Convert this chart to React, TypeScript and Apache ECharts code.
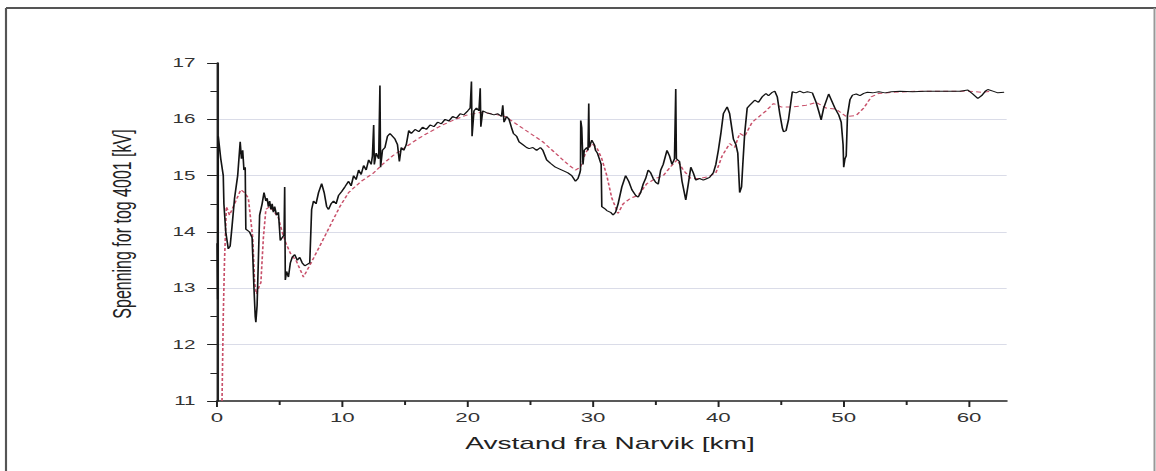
import React, { useEffect, useRef } from "react";
import * as echarts from "echarts";

// Measured line voltage along the line (km, kV)
const measuredKm = [
  0.0, 0.05, 0.08, 0.1, 0.15, 0.3, 0.5, 0.55, 0.7, 0.9, 1.05, 1.2, 1.4, 1.65, 1.85, 1.95, 2.05, 2.15, 2.25, 2.3,
  2.6, 2.8, 2.95, 3.05, 3.1, 3.2, 3.3, 3.4, 3.6, 3.75, 3.9, 4.0, 4.1, 4.2, 4.3, 4.4, 4.5, 4.6, 4.75, 4.9,
  5.05, 5.2, 5.35, 5.4, 5.45, 5.55, 5.7, 5.85, 6.0, 6.2, 6.4, 6.6, 6.8, 7.0, 7.4, 7.55, 7.7, 7.9, 8.1, 8.35,
  8.55, 8.75, 8.9, 9.1, 9.3, 9.5, 9.7, 9.95, 10.2, 10.5, 10.7, 10.9, 11.1, 11.3, 11.5, 11.7, 11.9, 12.1, 12.3, 12.4,
  12.5, 12.55, 12.7, 12.9, 13.0, 13.05, 13.2, 13.4, 13.6, 13.8, 14.0, 14.2, 14.4, 14.55, 14.7, 14.9, 15.1, 15.3, 15.5, 15.8,
  16.1, 16.4, 16.7, 17.0, 17.3, 17.6, 17.9, 18.2, 18.5, 18.8, 19.1, 19.4, 19.7, 20.0, 20.2, 20.3, 20.35, 20.5, 20.7, 20.9,
  21.0, 21.05, 21.2, 21.5, 21.8, 22.1, 22.4, 22.7, 22.8, 22.9, 23.1, 23.3, 23.5, 23.65, 23.9, 24.1, 24.4, 24.7, 24.9, 25.2,
  25.5, 25.8, 26.0, 26.3, 26.6, 27.0, 27.3, 27.7, 28.0, 28.3, 28.6, 28.8, 28.95, 29.0, 29.02, 29.1, 29.2, 29.3, 29.5, 29.6,
  29.66, 29.7, 29.9, 30.1, 30.2, 30.35, 30.5, 30.65, 30.7, 30.9, 31.1, 31.4, 31.6, 31.8, 32.0, 32.3, 32.6, 32.85, 33.1, 33.4,
  33.6, 33.8, 34.0, 34.2, 34.4, 34.6, 34.8, 35.0, 35.2, 35.4, 35.6, 35.9, 36.1, 36.3, 36.5, 36.6, 36.65, 36.9, 37.1, 37.4,
  37.6, 37.8, 38.0, 38.2, 38.5, 38.8, 39.1, 39.3, 39.6, 39.8, 40.0, 40.2, 40.4, 40.7, 40.9, 41.0, 41.2, 41.4, 41.55, 41.7,
  41.85, 41.95, 42.1, 42.3, 42.5, 42.9, 43.2, 43.5, 43.8, 44.0, 44.3, 44.5, 44.7, 44.9, 45.1, 45.2, 45.4, 45.6, 45.9, 46.2,
  46.5, 46.8, 47.1, 47.5, 47.8, 48.0, 48.2, 48.4, 48.8, 49.0, 49.3, 49.6, 49.8, 49.95, 50.0, 50.1, 50.2, 50.3, 50.5, 50.7,
  51.0, 51.3, 51.6, 51.9, 52.3, 52.8, 53.3, 53.8, 54.5, 55.5, 56.5, 57.5, 58.5, 59.3, 59.9, 60.3, 60.7, 61.0, 61.3, 61.5,
  61.9, 62.3, 62.8,
];
const measuredKv = [
  13.8, 12.8, 13.9, 15.7, 15.6, 15.3, 15.0, 14.5, 14.0, 13.7, 13.75, 14.1, 14.6, 15.0, 15.6, 15.3, 15.45, 15.1, 15.15, 14.05,
  14.0, 13.9, 13.0, 12.5, 12.4, 12.7, 13.5, 14.3, 14.5, 14.7, 14.55, 14.6, 14.45, 14.55, 14.4, 14.5, 14.35, 14.45, 14.3, 14.35,
  13.85, 13.9, 13.95, 14.8, 13.15, 13.3, 13.2, 13.45, 13.55, 13.6, 13.5, 13.55, 13.45, 13.4, 13.45, 14.4, 14.55, 14.5, 14.7, 14.86,
  14.7, 14.45, 14.4, 14.5, 14.55, 14.5, 14.65, 14.72, 14.8, 14.9, 14.82, 15.0, 14.93, 15.1, 15.02, 15.18, 15.1, 15.28, 15.2, 15.35,
  15.9, 15.2, 15.4, 15.3, 16.6, 15.15, 15.45, 15.5, 15.7, 15.75, 15.7, 15.65, 15.55, 15.25, 15.5, 15.45, 15.55, 15.8, 15.75, 15.82,
  15.78, 15.86, 15.82, 15.9, 15.87, 15.95, 15.92, 16.0, 15.97, 16.05, 16.02, 16.1, 16.08, 16.15, 16.2, 16.67, 15.7, 16.15, 16.2, 16.15,
  16.55, 15.87, 16.15, 16.12, 16.1, 16.08, 16.1, 16.05, 16.25, 15.95, 16.05, 16.0, 15.85, 15.75, 15.7, 15.6, 15.55, 15.5, 15.48, 15.5,
  15.45, 15.5, 15.45, 15.28, 15.22, 15.15, 15.12, 15.08, 15.05, 15.0, 14.9, 14.95, 15.05, 15.1, 15.98, 15.85, 15.2, 15.45, 15.5, 15.45,
  16.28, 15.5, 15.63, 15.55, 15.45, 15.4, 15.3, 15.2, 14.45, 14.42, 14.38, 14.35, 14.3, 14.35, 14.5, 14.8, 15.0, 14.9, 14.75, 14.65,
  14.62, 14.7, 14.85, 14.95, 15.1, 15.05, 14.95, 14.88, 14.85, 15.1, 15.2, 15.45, 15.35, 15.2, 15.3, 16.54, 15.3, 15.25, 14.9, 14.57,
  14.85, 15.15, 15.05, 14.92, 14.95, 14.92, 14.95, 14.97, 15.05, 15.2, 15.45, 15.75, 16.1, 16.22, 16.1, 15.95, 15.65, 15.55, 15.4, 14.7,
  14.8, 15.2, 15.75, 16.2, 16.25, 16.34, 16.3, 16.4, 16.46, 16.42, 16.48, 16.5, 16.4, 16.1, 15.85, 15.78, 15.8, 16.0, 16.49, 16.47,
  16.5, 16.47, 16.49, 16.47, 16.3, 16.15, 15.99, 16.2, 16.45, 16.35, 16.2, 16.08, 15.95, 15.55, 15.15, 15.3, 15.35, 16.07, 16.35, 16.43,
  16.45, 16.42, 16.46, 16.48, 16.47, 16.49, 16.47, 16.49, 16.5, 16.49, 16.5, 16.5, 16.5, 16.5, 16.52, 16.45, 16.37, 16.42, 16.5, 16.53,
  16.5, 16.47, 16.48,
];

// Simulated voltage (km, kV)
const simulatedKm = [
  0.4, 0.5, 0.6, 0.75, 1.0, 1.3, 1.6, 1.9, 2.2, 2.5, 2.7, 2.85, 3.0, 3.15, 3.3, 3.5, 3.7, 3.9, 4.2, 4.6,
  4.9, 5.2, 5.5, 5.9, 6.3, 6.6, 6.9, 7.5, 8.2, 9.0, 9.8, 10.5, 11.5, 12.5, 13.2, 14.0, 15.0, 16.0, 17.0, 18.0,
  19.0, 20.0, 21.0, 22.0, 23.0, 24.0, 25.0, 26.0, 27.0, 28.0, 28.6, 29.0, 29.4, 29.9, 30.3, 30.7, 31.1, 31.5, 32.0, 32.4,
  33.0, 33.6, 34.3, 35.0, 35.6, 36.2, 36.7, 37.2, 37.8, 38.5, 39.2, 39.8, 40.3, 40.9, 41.3, 41.7, 42.1, 42.7, 43.2, 43.8,
  44.4, 45.0, 45.9, 47.0, 47.8, 48.6, 49.4, 50.2, 51.0, 51.6, 52.2, 52.8, 54.0, 56.0, 58.0, 60.0, 61.0, 61.8,
];
const simulatedKv = [
  11.0, 12.5, 13.5, 14.45, 14.3, 14.45, 14.6, 14.75, 14.7, 14.6, 14.2, 13.9, 13.1, 12.9, 13.0, 13.1, 13.9, 14.4, 14.45, 14.35,
  14.25, 14.0, 13.8, 13.6, 13.5, 13.35, 13.2, 13.45, 13.75, 14.1, 14.45, 14.7, 14.9, 15.05, 15.2, 15.35, 15.5, 15.65, 15.78, 15.9,
  16.0, 16.08, 16.12, 16.1, 16.05, 15.9, 15.75, 15.6, 15.4, 15.2, 15.1, 15.15, 15.4, 15.57, 15.5, 15.3, 15.0, 14.6, 14.33, 14.5,
  14.6, 14.65, 14.86, 14.95, 15.0, 15.16, 15.28, 15.1, 14.95, 14.95, 14.98, 15.05, 15.35, 15.57, 15.5, 15.75, 15.7, 15.95, 16.04, 16.15,
  16.28, 16.22, 16.22, 16.25, 16.3, 16.2, 16.18, 16.05, 16.07, 16.2, 16.4, 16.46, 16.48, 16.5, 16.5, 16.5, 16.48, 16.5,
];

const xMajorTicks = [0, 10, 20, 30, 40, 50, 60];
const xMinorTicks = [5, 15, 25, 35, 45, 55];

const yTitle = "Spenning for tog 4001 [kV]";
const xTitle = "Avstand fra Narvik [km]";

// The figure is drawn in a narrower box and widened horizontally as a whole
const STRETCH = 1.65;
const FULL_W = 1156;
const FULL_H = 471;
const W = FULL_W / STRETCH;
const FONT = "'Liberation Sans', Arial, Helvetica, sans-serif";

export default function App() {
  const ref = useRef<HTMLDivElement>(null);

  useEffect(() => {
    if (!ref.current) return;
    const chart = echarts.init(ref.current, null, { renderer: "svg" });

    const measured = measuredKm.map((k, i) => [k, measuredKv[i]]);
    const simulated = simulatedKm.map((k, i) => [k, simulatedKv[i]]);

    const gridLeft = 217 / STRETCH;
    const gridRight = W - 1006 / STRETCH;

    chart.setOption({
      animation: false,
      backgroundColor: "#ffffff",
      grid: { left: gridLeft, right: gridRight, top: 63, bottom: FULL_H - 401, containLabel: false },
      xAxis: [
        {
          type: "value",
          min: 0,
          max: 63,
          interval: 10,
          position: "bottom",
          axisLine: { show: true, onZero: false, lineStyle: { color: "#222", width: 1.5 } },
          axisTick: { show: true, inside: false, length: 6, customValues: xMajorTicks, lineStyle: { color: "#222", width: 1.2 } },
          axisLabel: { show: true, customValues: xMajorTicks, margin: 9, fontSize: 13.5, color: "#333", fontFamily: FONT },
          splitLine: { show: false },
        },
        {
          type: "value",
          min: 0,
          max: 63,
          interval: 5,
          position: "bottom",
          axisLine: { show: false },
          axisTick: { show: true, inside: false, length: 4, customValues: xMinorTicks, lineStyle: { color: "#222", width: 1.2 } },
          axisLabel: { show: false },
          splitLine: { show: false },
        },
      ],
      yAxis: {
        type: "value",
        min: 11,
        max: 17,
        interval: 1,
        axisLine: { show: true, onZero: false, lineStyle: { color: "#222", width: 1.5 } },
        axisTick: { show: true, inside: false, length: 6, lineStyle: { color: "#222", width: 1 } },
        minorTick: { show: true, splitNumber: 2, length: 4, lineStyle: { color: "#222", width: 1 } },
        axisLabel: { margin: 13, fontSize: 12.5, color: "#333", fontFamily: FONT },
        splitLine: {
          show: true,
          showMinLine: false,
          showMaxLine: false,
          lineStyle: { color: "#dadce8", width: 1 },
        },
      },
      series: [
        {
          name: "Simulert",
          type: "line",
          xAxisIndex: 0,
          data: simulated,
          showSymbol: false,
          symbol: "none",
          z: 2,
          lineStyle: { color: "#c8506a", width: 1, type: [3, 2] },
        },
        {
          name: "Målt",
          type: "line",
          xAxisIndex: 0,
          data: measured,
          showSymbol: false,
          symbol: "none",
          z: 3,
          lineStyle: { color: "#141414", width: 1 },
        },
      ],
      graphic: [
        {
          type: "line",
          shape: { x1: 6 / STRETCH, y1: 8, x2: W + 2, y2: 8 },
          style: { stroke: "#555", lineWidth: 2 },
        },
        {
          type: "line",
          shape: { x1: 6 / STRETCH, y1: 8, x2: 6 / STRETCH, y2: FULL_H + 4 },
          style: { stroke: "#555", lineWidth: 1.3 },
        },
        {
          type: "line",
          shape: { x1: 1154.5 / STRETCH, y1: 8, x2: 1154.5 / STRETCH, y2: FULL_H + 4 },
          style: { stroke: "#999", lineWidth: 1.2 },
        },
        {
          type: "text",
          x: 122 / STRETCH,
          y: 224,
          rotation: Math.PI / 2,
          style: {
            text: yTitle,
            fontSize: 16,
            fontFamily: FONT,
            fill: "#222",
            align: "center",
            verticalAlign: "middle",
            textAlign: "center",
            textVerticalAlign: "middle",
          },
        },
        {
          type: "text",
          x: 610 / STRETCH,
          y: 443,
          style: {
            text: xTitle,
            fontSize: 17,
            fontFamily: FONT,
            fill: "#222",
            align: "center",
            verticalAlign: "middle",
            textAlign: "center",
            textVerticalAlign: "middle",
          },
        },
      ],
    });

    return () => chart.dispose();
  }, []);

  return (
    <div
      ref={ref}
      style={{
        position: "absolute",
        left: 0,
        top: 0,
        width: W,
        height: FULL_H,
        transform: `scaleX(${STRETCH})`,
        transformOrigin: "0 0",
        background: "#fff",
      }}
    />
  );
}
